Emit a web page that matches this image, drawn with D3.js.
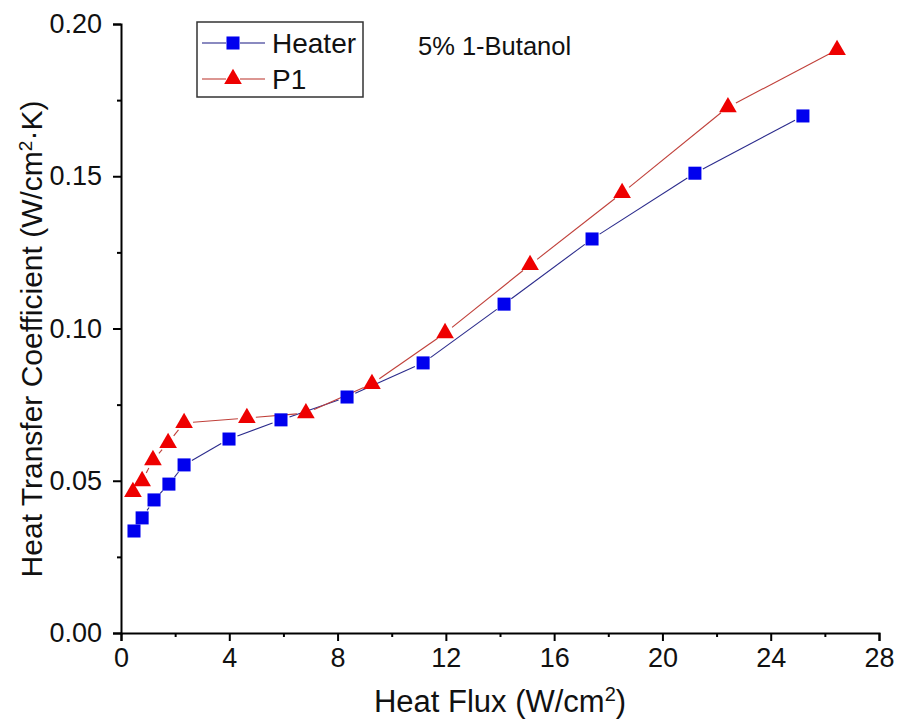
<!DOCTYPE html>
<html>
<head>
<meta charset="utf-8">
<script src="https://cdn.jsdelivr.net/npm/d3@7"></script>
<style>
  html, body { margin: 0; padding: 0; background: #fff; }
  svg { display: block; font-family: "Liberation Sans", Arial, sans-serif; }
</style>
</head>
<body>
<svg id="chart" width="901" height="726"></svg>
<script>
// Heat flux (W/cm²) and heat transfer coefficient (W/cm²·K), 5% 1-Butanol
const heaterFlux = [0.48, 0.78, 1.22, 1.77, 2.33, 3.99, 5.91, 8.35, 11.16, 14.15, 17.40, 21.2, 25.19];
const heaterHTC  = [0.0335, 0.0378, 0.0437, 0.0489, 0.0552, 0.0637, 0.0700, 0.0775, 0.0887, 0.1080, 0.1294, 0.1510, 0.1698];
const p1Flux = [0.44, 0.78, 1.18, 1.74, 2.33, 4.65, 6.83, 9.27, 11.97, 15.11, 18.51, 22.42, 26.45];
const p1HTC  = [0.0463, 0.0499, 0.0568, 0.0624, 0.0690, 0.0706, 0.0722, 0.0818, 0.0985, 0.1209, 0.1445, 0.1727, 0.1915];

const xTicks = [0, 4, 8, 12, 16, 20, 24, 28];
const xMinorTicks = [2, 6, 10, 14, 18, 22, 26];
const yTicks = [0, 0.05, 0.10, 0.15, 0.20];
const yMinorTicks = [0.025, 0.075, 0.125, 0.175];

const seriesNames = ["Heater", "P1"];
const annotation = "5% 1-Butanol";

const svg = d3.select("#chart");
const W = 901, H = 726;
const margin = { left: 121, right: 22, top: 24, bottom: 93 };

const x = d3.scaleLinear().domain([0, 28]).range([margin.left, W - margin.right]);
const y = d3.scaleLinear().domain([0, 0.20]).range([H - margin.bottom, margin.top]);

// Axes: major ticks with labels, minor ticks without
svg.append("g").attr("transform", `translate(0,${y(0)})`)
  .call(d3.axisBottom(x).tickValues(xTicks).tickSize(8).tickPadding(7).tickFormat(d3.format("d")));
svg.append("g").attr("transform", `translate(0,${y(0)})`)
  .call(d3.axisBottom(x).tickValues(xMinorTicks).tickSize(4).tickFormat(""))
  .call(g => g.select(".domain").remove());

svg.append("g").attr("transform", `translate(${x(0)},0)`)
  .call(d3.axisLeft(y).tickValues(yTicks).tickSize(8).tickPadding(11).tickFormat(d3.format(".2f")));
svg.append("g").attr("transform", `translate(${x(0)},0)`)
  .call(d3.axisLeft(y).tickValues(yMinorTicks).tickSize(4).tickFormat(""))
  .call(g => g.select(".domain").remove());

svg.selectAll(".domain").attr("stroke", "#000").attr("stroke-width", 2);
svg.selectAll(".tick line").attr("stroke", "#000").attr("stroke-width", 2);
svg.selectAll(".tick text").attr("font-size", 27).attr("fill", "#111")
  .attr("font-family", "'Liberation Sans', Arial, sans-serif");

// Axis titles
const xTitle = svg.append("text")
  .attr("x", x(14)).attr("y", 712)
  .attr("text-anchor", "middle").attr("font-size", 31).attr("fill", "#111");
xTitle.append("tspan").text("Heat Flux (W/cm");
xTitle.append("tspan").attr("baseline-shift", "super").attr("font-size", 20).text("2");
xTitle.append("tspan").text(")");

const yTitle = svg.append("text")
  .attr("transform", `translate(42,339) rotate(-90)`)
  .attr("text-anchor", "middle").attr("font-size", 30).attr("fill", "#111");
yTitle.append("tspan").text("Heat Transfer Coefficient (W/cm");
yTitle.append("tspan").attr("baseline-shift", "super").attr("font-size", 19).text("2");
yTitle.append("tspan").text("·K)");

// Connecting lines drawn as segments that stop short of each marker
function drawSegments(xs, ys, color, gap) {
  const pts = xs.map((d, i) => [x(d), y(ys[i])]);
  const segs = d3.pairs(pts).map(([a, b]) => {
    const dx = b[0] - a[0], dy = b[1] - a[1];
    const len = Math.hypot(dx, dy);
    if (len <= 2 * gap) return null;
    const ux = dx / len, uy = dy / len;
    return [a[0] + ux * gap, a[1] + uy * gap, b[0] - ux * gap, b[1] - uy * gap];
  }).filter(Boolean);
  svg.append("g").selectAll("line").data(segs).join("line")
    .attr("x1", d => d[0]).attr("y1", d => d[1])
    .attr("x2", d => d[2]).attr("y2", d => d[3])
    .attr("stroke", color).attr("stroke-width", 1.1);
}

const heaterLine = "#2b2b8c";
const p1Line = "#c0403a";
const heaterFill = "#0000ee";
const p1Fill = "#ee0000";

drawSegments(heaterFlux, heaterHTC, heaterLine, 9);
drawSegments(p1Flux, p1HTC, p1Line, 9);

const square = d3.symbol().type(d3.symbolSquare).size(170);
const triangle = d3.symbol().type(d3.symbolTriangle).size(135);

svg.append("g").selectAll("path").data(heaterFlux).join("path")
  .attr("d", square)
  .attr("transform", (d, i) => `translate(${x(d)},${y(heaterHTC[i])})`)
  .attr("fill", heaterFill);

svg.append("g").selectAll("path").data(p1Flux).join("path")
  .attr("d", triangle)
  .attr("transform", (d, i) => `translate(${x(d)},${y(p1HTC[i])})`)
  .attr("fill", p1Fill);

// Legend
const lg = svg.append("g");
lg.append("rect").attr("x", 197).attr("y", 22).attr("width", 166).attr("height", 75)
  .attr("fill", "#fff").attr("stroke", "#333").attr("stroke-width", 1.5);
const legendRows = [
  { name: seriesNames[0], line: heaterLine, fill: heaterFill, sym: square, cy: 43 },
  { name: seriesNames[1], line: p1Line, fill: p1Fill, sym: triangle, cy: 79 }
];
legendRows.forEach(r => {
  lg.append("line").attr("x1", 202).attr("x2", 226).attr("y1", r.cy).attr("y2", r.cy)
    .attr("stroke", r.line).attr("stroke-width", 1.1);
  lg.append("line").attr("x1", 240).attr("x2", 265).attr("y1", r.cy).attr("y2", r.cy)
    .attr("stroke", r.line).attr("stroke-width", 1.1);
  lg.append("path").attr("d", r.sym).attr("transform", `translate(233,${r.cy})`).attr("fill", r.fill);
  lg.append("text").attr("x", 272).attr("y", r.cy + 10).attr("font-size", 28)
    .attr("fill", "#111").text(r.name);
});

svg.append("text").attr("x", 418).attr("y", 55).attr("font-size", 25.5)
  .attr("fill", "#111").text(annotation);
</script>
</body>
</html>
